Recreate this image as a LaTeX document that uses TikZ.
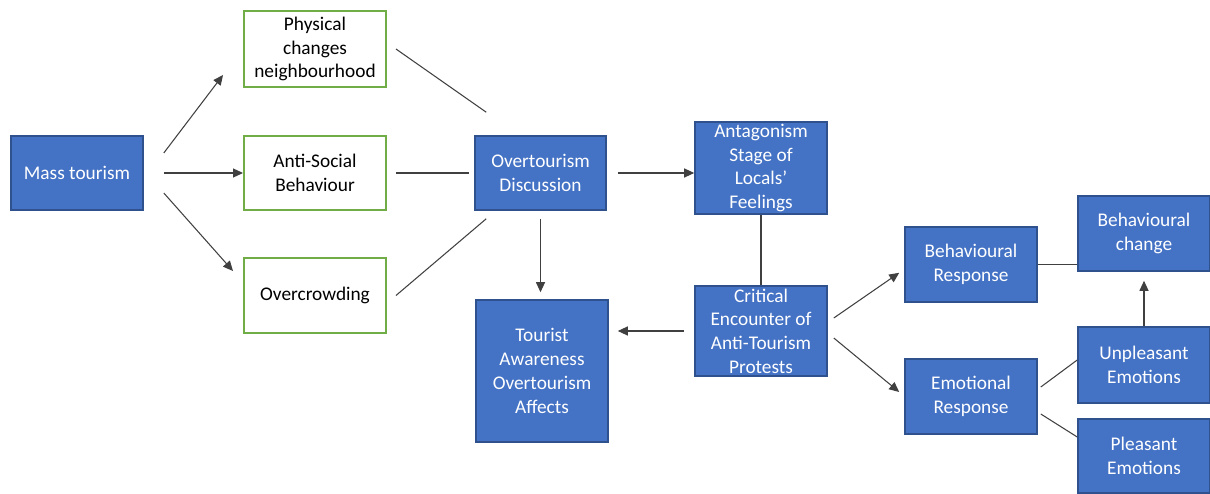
\documentclass[tikz,border=0pt]{standalone}
\usepackage{fontspec}
\setmainfont{Carlito}
\usetikzlibrary{arrows.meta}
\definecolor{boxblue}{HTML}{4472C4}
\definecolor{edgeblue}{HTML}{2F528F}
\definecolor{boxgreen}{HTML}{70AD47}
\definecolor{linegray}{HTML}{404040}

\begin{document}
\begin{tikzpicture}[every node/.style={rectangle,align=center,inner sep=1pt,font=\fontsize{11}{13.5}\selectfont},
  bluebox/.style={draw=edgeblue,fill=boxblue,text=white,line width=0.9pt},
  greenbox/.style={draw=boxgreen,fill=white,text=black,line width=1.1pt},
  arr/.style={-{Triangle[length=2mm,width=1.8mm]},linegray,line width=0.6pt},
  ln/.style={linegray,line width=0.6pt}]
\useasboundingbox (0,0) rectangle (24.2,-9.88);
\node[bluebox,minimum width=2.64cm,minimum height=1.48cm] (mass) at (1.54,-3.46) {Mass tourism};
\node[greenbox,minimum width=2.84cm,minimum height=1.52cm] (phys) at (6.30,-0.98) {Physical\\changes\\neighbourhood};
\node[greenbox,minimum width=2.84cm,minimum height=1.48cm] (anti) at (6.30,-3.46) {Anti-Social\\Behaviour};
\node[greenbox,minimum width=2.84cm,minimum height=1.50cm] (crowd) at (6.30,-5.91) {Overcrowding};
\node[bluebox,minimum width=2.62cm,minimum height=1.48cm] (disc) at (10.81,-3.46) {Overtourism\\Discussion};
\node[bluebox,minimum width=2.64cm,minimum height=1.84cm] (antag) at (15.22,-3.36) {Antagonism\\Stage of\\Locals’\\Feelings};
\node[bluebox,minimum width=2.64cm,minimum height=2.84cm] (aware) at (10.84,-7.42) {Tourist\\Awareness\\Overtourism\\Affects};
\node[bluebox,minimum width=2.64cm,minimum height=1.80cm] (crit) at (15.22,-6.62) {Critical\\Encounter of\\Anti-Tourism\\Protests};
\node[bluebox,minimum width=2.64cm,minimum height=1.50cm] (bresp) at (19.42,-5.29) {Behavioural\\Response};
\node[bluebox,minimum width=2.64cm,minimum height=1.50cm] (eresp) at (19.42,-7.93) {Emotional\\Response};
\node[bluebox,minimum width=2.64cm,minimum height=1.50cm] (bchange) at (22.88,-4.67) {Behavioural\\change};
\node[bluebox,minimum width=2.64cm,minimum height=1.52cm] (unpl) at (22.88,-7.30) {Unpleasant\\Emotions};
\node[bluebox,minimum width=2.64cm,minimum height=1.48cm] (pleas) at (22.88,-9.12) {Pleasant\\Emotions};

\draw[arr] ([shift={(0.4,0.4)}]mass.east) -- ([shift={(-0.4,0.26)}]phys.south west);
\draw[arr] ([xshift=4mm]mass.east) -- (anti.west);
\draw[arr] ([shift={(0.4,-0.4)}]mass.east) -- ([shift={(-0.2,-0.28)}]crowd.north west);

\draw[ln] ([xshift=1.8mm]phys.east) -- ([shift={(0.24,0.46)}]disc.north west);
\draw[ln] ([xshift=1.8mm]anti.east) -- ([xshift=-1mm]disc.west);
\draw[ln] ([xshift=1.8mm]crowd.east) -- ([shift={(0.24,-0.16)}]disc.south west);

\draw[arr] ([xshift=2.2mm]disc.east) -- (disc.east -| antag.west);
\draw[arr] ([yshift=-1.6mm]disc.south) -- ([yshift=1.4mm]disc.south |- aware.north);
\draw[ln] (antag.south) -- (crit.north);
\draw[arr] ([xshift=-2mm]crit.west) -- ([xshift=1.8mm]aware.east |- crit.west);

\draw[arr] ([shift={(0.12,0.26)}]crit.east) -- ([shift={(-0.1,0.6)}]bresp.south west);
\draw[arr] ([shift={(0.12,-0.14)}]crit.east) -- ([shift={(-0.1,0.09)}]eresp.west);
\draw[ln] (bresp.east) -- (bresp.east -| bchange.west);
\draw[ln] ([shift={(0.06,0.19)}]eresp.east) -- ([yshift=1mm]unpl.west);
\draw[ln] ([shift={(0.06,-0.35)}]eresp.east) -- ([yshift=3.8mm]pleas.west);
\draw[arr] (unpl.north) -- ([yshift=-1.8mm]bchange.south);
\end{tikzpicture}
\end{document}
